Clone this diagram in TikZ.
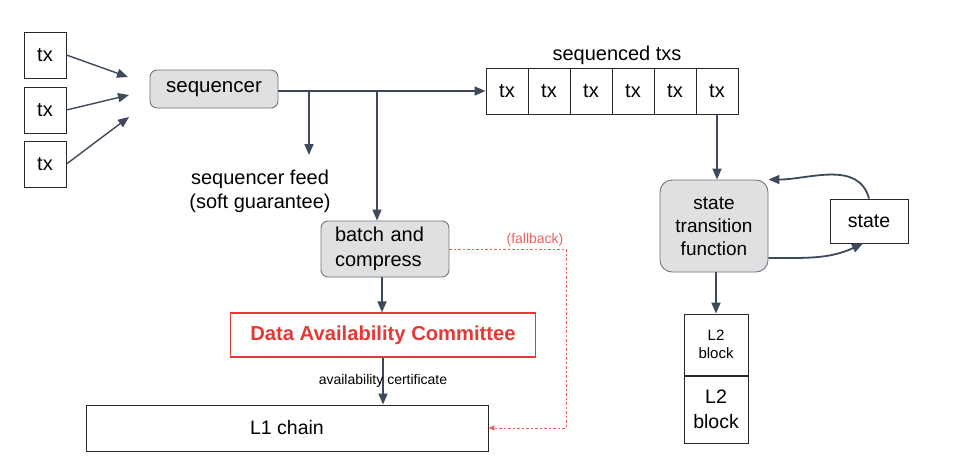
\documentclass[tikz,border=0pt]{standalone}
\usepackage{fontspec}
\setmainfont{Liberation Sans}
\usetikzlibrary{arrows.meta}
\definecolor{arrowgray}{HTML}{3E4A5B}
\definecolor{boxgray}{HTML}{E0E0E0}
\definecolor{boxedge}{HTML}{6B7785}
\definecolor{dacred}{HTML}{E53935}
\begin{document}
\begin{tikzpicture}[x=1pt,y=1pt,
  plain/.style={draw=black!85, line width=0.9pt, inner sep=0pt, font=\fontsize{20}{24}\selectfont},
  gray box/.style={draw=boxedge, fill=boxgray, line width=0.9pt, rounded corners=7pt, inner sep=0pt, font=\fontsize{20}{25}\selectfont},
  arr/.style={draw=arrowgray, line width=1.8pt, -{Triangle[length=11pt,width=9pt]}},
  fallback/.style={draw=dacred!80, line width=0.8pt, dash pattern=on 2.5pt off 2pt, -{Triangle[length=6pt,width=5pt]}}]

\useasboundingbox (0,0) rectangle (968,-466);

% transactions

\node[plain, minimum width=42pt, minimum height=46pt] (tx1) at (45,-55) {tx};
\node[plain, minimum width=42pt, minimum height=46pt] (tx2) at (45,-110) {tx};
\node[plain, minimum width=42pt, minimum height=46pt] (tx3) at (45,-164) {tx};

\coordinate (in1) at (128,-77);
\coordinate (in2) at (129,-95);
\coordinate (in3) at (129,-117);

\draw[arr, line width=1.4pt] (tx1.east) -- (in1);
\draw[arr, line width=1.4pt] (tx2.east) -- (in2);
\draw[arr, line width=1.4pt] (tx3.east) -- (in3);

% sequencer

\node[gray box, minimum width=128pt, minimum height=38pt, font=\fontsize{20.5}{25}\selectfont] (seq) at (214,-89) {sequencer};

% sequenced txs

\node[font=\fontsize{20}{24}\selectfont] (seqlabel) at (617,-55) {sequenced txs};
\foreach \i in {1,...,6}
  \node[plain, minimum width=42pt, minimum height=46pt] (c\i) at (465+42*\i,-91) {tx};

\draw[arr] (seq.east |- c1) -- (c1.west);

% sequencer feed

\coordinate (feedsplit) at (309,-91);
\coordinate (feedtip) at (309,-155);
\draw[arr] (feedsplit) -- (feedtip);
\node[align=center, font=\fontsize{20}{24}\selectfont] (feed) at (260,-191) {sequencer feed\\(soft guarantee)};

% batch and compress

\node[gray box, minimum width=128pt, minimum height=56pt, text width=100pt, align=left] (batch) at (385,-249) {batch and\\compress};
\coordinate (batchsplit) at (377,-91);
\draw[arr] (batchsplit) -- (batchsplit |- batch.north);

% DAC

\node[draw=dacred, line width=1.3pt, minimum width=305pt, minimum height=44pt, inner sep=0pt,
      text=dacred, font=\fontsize{20.2}{24}\selectfont\bfseries] (dac) at (383,-335) {Data Availability Committee};
\coordinate (b2d) at (382,0);
\draw[arr] (batch.south -| b2d) -- (dac.north -| b2d);

% L1 chain

\node[plain, minimum width=402pt, minimum height=46pt, font=\fontsize{19.5}{24}\selectfont] (l1) at (287,-428) {L1 chain};
\draw[arr] (dac.south) -- (dac.south |- l1.north)
  node[midway, font=\fontsize{14}{16}\selectfont] {availability certificate};

% fallback

\coordinate (fbturn) at (566,-249);
\draw[fallback] (batch.east) -- (fbturn) |- (l1.east);
\node[text=dacred!80, font=\fontsize{14}{16}\selectfont] (fblabel) at (535,-240) {(fallback)};

% state transition

\node[gray box, rounded corners=12pt, minimum width=108pt, minimum height=92pt, align=center,
      font=\fontsize{19}{23}\selectfont] (stf) at (714,-226) {state\\transition\\function};
\node[plain, minimum width=78pt, minimum height=44pt, font=\fontsize{19.5}{24}\selectfont] (state) at (869,-221) {state};

\draw[arr] (c6.south) -- (c6.south |- stf.north);
\draw[arr] (state.north) to[out=105, in=0] (stf.north east);
\draw[arr] ([yshift=-32pt]stf.east) to[out=0, in=205] ([xshift=-6pt]state.south);

% L2 blocks

\node[plain, minimum width=64pt, minimum height=61pt, align=center,
      font=\fontsize{15}{18}\selectfont] (l2a) at (716,-344.5) {L2\\block};
\node[plain, minimum width=64pt, minimum height=67pt, align=center,
      font=\fontsize{19.5}{25}\selectfont] (l2b) at (716,-409.5) {L2\\block};
\draw[arr] (stf.south -| l2a.north) -- (l2a.north);

\end{tikzpicture}
\end{document}
